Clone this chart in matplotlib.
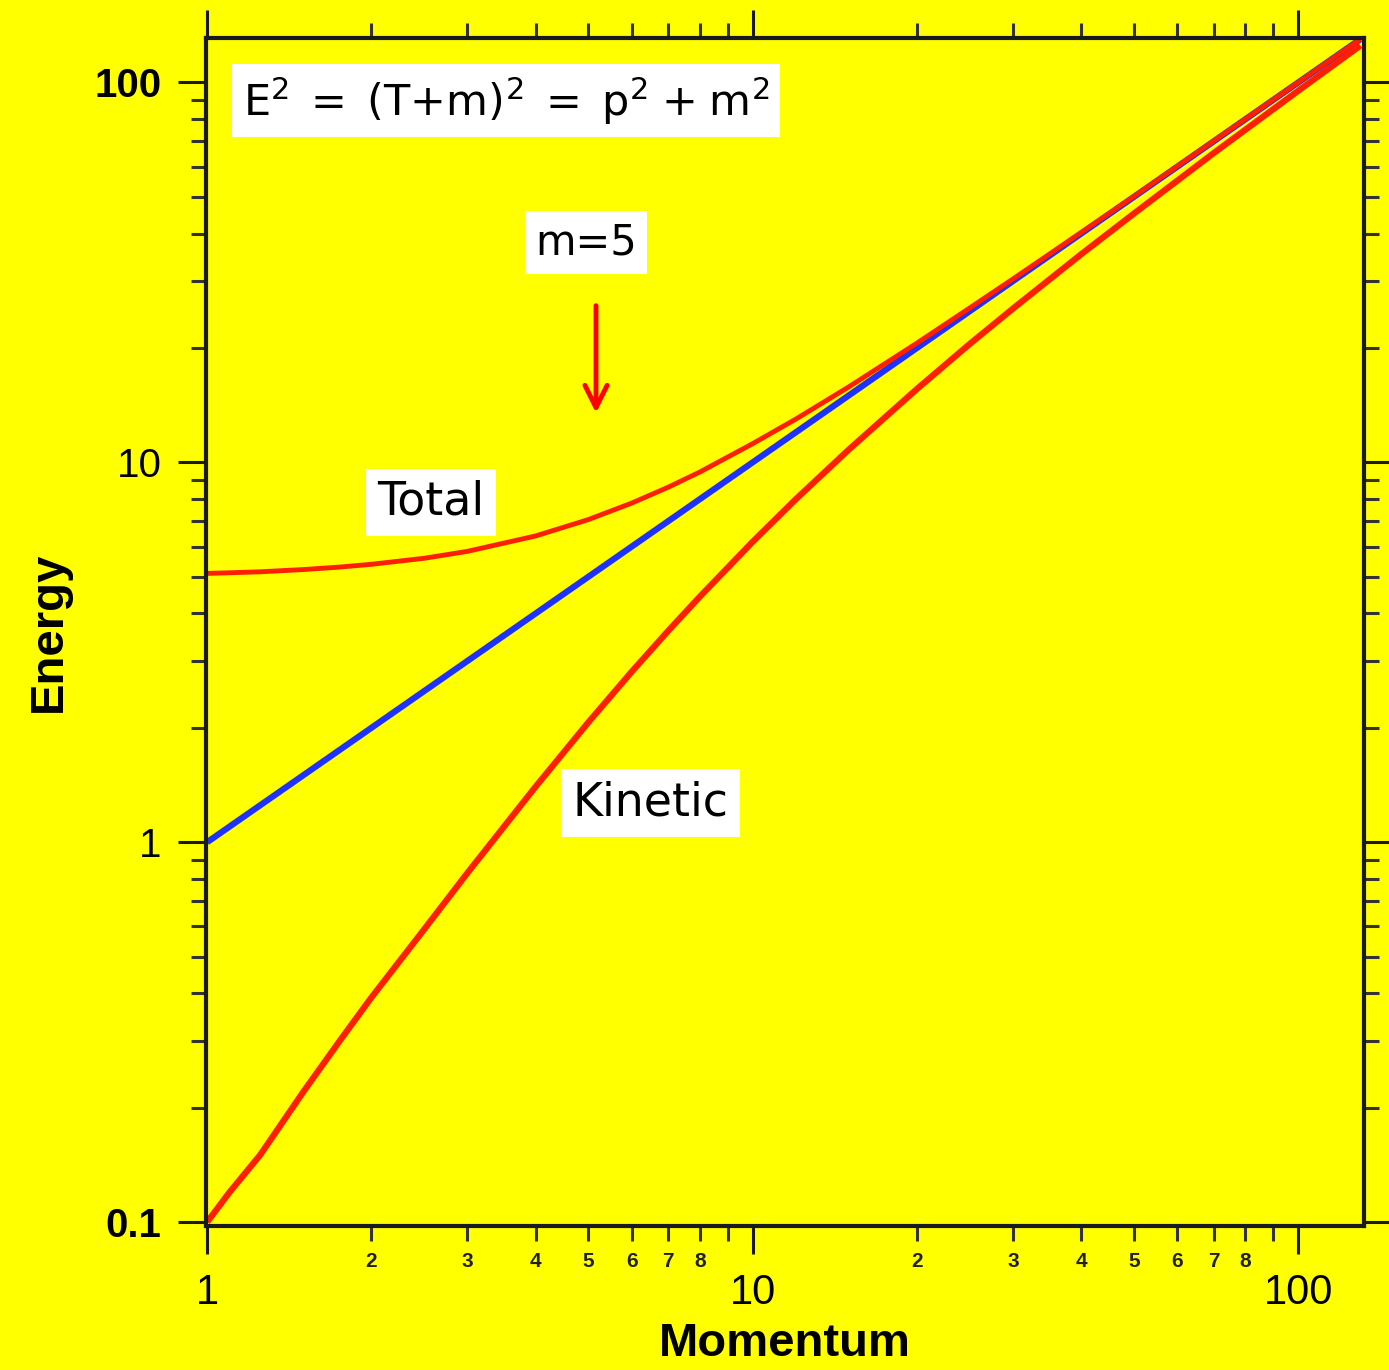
import numpy as np
import matplotlib
matplotlib.use("Agg")
import matplotlib.pyplot as plt
from matplotlib.ticker import LogLocator, FuncFormatter, NullFormatter

# values (log-log, m = 5)
momentum = [1, 1.1, 1.25, 1.5, 1.75, 2, 2.5, 3, 4, 5, 6, 7, 8, 10, 12, 15, 20, 25, 30, 40, 50, 70, 100, 130]
p_line = [1, 1.1, 1.25, 1.5, 1.75, 2, 2.5, 3, 4, 5, 6, 7, 8, 10, 12, 15, 20, 25, 30, 40, 50, 70, 100, 130]
total = [5.10, 5.12, 5.15, 5.22, 5.30, 5.39, 5.59, 5.83, 6.40, 7.07, 7.81, 8.60, 9.43, 11.2, 13.0,
         15.8, 20.6, 25.5, 30.4, 40.3, 50.2, 70.2, 100.1, 130.1]
kinetic = [0.10, 0.12, 0.15, 0.22, 0.30, 0.39, 0.59, 0.83, 1.40, 2.07, 2.81, 3.60, 4.43, 6.18, 8.0,
           10.8, 15.6, 20.5, 25.4, 35.3, 45.2, 65.2, 95.1, 125.1]

ytick_vals = [0.1, 1, 10, 100]
ytick_text = ["0.1", "1", "10", "100"]
xtick_vals = [1, 10, 100]
xtick_text = ["1", "10", "100"]

RED = "#ff1e00"
BLUE = "#1e32ff"
YEL = "#ffff00"

fig = plt.figure(figsize=(13.89, 13.70), dpi=100, facecolor=YEL)
ax = fig.add_axes([0.1483, 0.1051, 0.8337, 0.8672], facecolor=YEL)

ax.plot(momentum, p_line, color=BLUE, lw=4.5, solid_capstyle="butt")
ax.plot(momentum, total, color=RED, lw=3.5, solid_capstyle="butt")
ax.plot(momentum, kinetic, color=RED, lw=4.5, solid_capstyle="butt")

ax.set_xscale("log")
ax.set_yscale("log")
ax.set_xlim(0.995, 132)
ax.set_ylim(0.0976, 131)

for s in ax.spines.values():
    s.set_linewidth(3)
    s.set_color("#1a1a1a")

ax.set_xticks(xtick_vals, xtick_text)
ax.set_yticks(ytick_vals, ytick_text)
ax.xaxis.set_minor_locator(LogLocator(base=10, subs=np.arange(2, 10)))
ax.yaxis.set_minor_locator(LogLocator(base=10, subs=np.arange(2, 10)))


def minor_lab(v, pos):
    d = int(round(v / 10 ** np.floor(np.log10(v) + 1e-9)))
    return str(d) if 2 <= d <= 8 else ""


ax.xaxis.set_minor_formatter(FuncFormatter(minor_lab))
ax.yaxis.set_minor_formatter(NullFormatter())

ax.tick_params(which="major", direction="out", length=20, width=2.2, color="#1a1a1a",
               top=True, right=True)
ax.tick_params(which="minor", direction="out", length=11, width=2.2, color="#333333",
               top=True, right=True)
ax.tick_params(axis="x", which="major", labelsize=30, pad=14)
ax.tick_params(axis="x", which="minor", labelsize=15, pad=8)
ax.tick_params(axis="y", which="major", labelsize=29, pad=12)
for lab in ax.get_xticklabels(which="minor"):
    lab.set_fontfamily("Liberation Sans")
    lab.set_fontweight("bold")
    lab.set_color("#222222")
for lab in ax.get_xticklabels() + ax.get_yticklabels():
    lab.set_fontfamily("Liberation Sans")
for lab in ax.get_yticklabels():
    if lab.get_text() in ("100", "0.1"):
        lab.set_fontweight("bold")

ax.set_xlabel("Momentum", fontsize=34, fontweight="bold", family="Liberation Sans", labelpad=6)
ax.set_ylabel("Energy", fontsize=34, fontweight="bold", family="Liberation Sans", labelpad=17)

box = dict(boxstyle="square,pad=0.25", facecolor="white", edgecolor="none")
ax.text(0.259, 0.947, r"$\mathregular{E^{2}\;=\;(T{+}m)^{2}\;=\;p^{2}\;{+}\;m^{2}}$",
        transform=ax.transAxes, fontsize=31, family="DejaVu Sans", ha="center", va="center",
        bbox=box)
ax.text(0.328, 0.828, "m=5", transform=ax.transAxes, fontsize=30, family="DejaVu Sans",
        ha="center", va="center", bbox=box)
ax.text(0.194, 0.609, "Total", transform=ax.transAxes, fontsize=33, family="DejaVu Sans",
        ha="center", va="center", bbox=box)
ax.text(0.384, 0.356, "Kinetic", transform=ax.transAxes, fontsize=33, family="DejaVu Sans",
        ha="center", va="center", bbox=box)

ax.annotate("", xy=(0.3368, 0.682), xytext=(0.3368, 0.777), xycoords="axes fraction",
            arrowprops=dict(arrowstyle="->,head_length=1.6,head_width=0.8", color="red", lw=3.5))

fig.savefig("out.png", dpi=100, facecolor=YEL)
